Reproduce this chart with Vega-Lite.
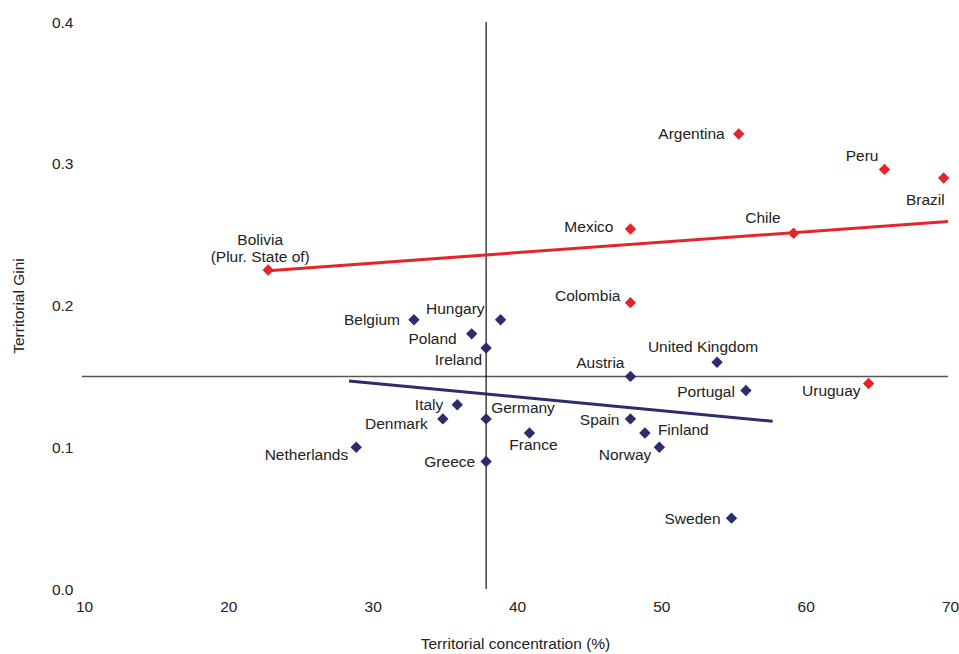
{
  "$schema": "https://vega.github.io/schema/vega-lite/v6.json",
  "autosize": {"type": "none"},
  "width": 866,
  "height": 567,
  "padding": {"left": 82, "top": 22, "right": 11, "bottom": 65},
  "background": "white",
  "config": {
    "view": {"stroke": null},
    "font": "Liberation Sans",
    "text": {"font": "Liberation Sans", "fontSize": 15.5, "color": "#222222"}
  },
  "datasets": {
    "points": [
      {"country": "Bolivia\n(Plur. State of)", "conc": 22.9, "gini": 0.225, "group": "Latin America"},
      {"country": "Mexico", "conc": 48, "gini": 0.254, "group": "Latin America"},
      {"country": "Colombia", "conc": 48, "gini": 0.202, "group": "Latin America"},
      {"country": "Argentina", "conc": 55.5, "gini": 0.321, "group": "Latin America"},
      {"country": "Peru", "conc": 65.6, "gini": 0.296, "group": "Latin America"},
      {"country": "Brazil", "conc": 69.7, "gini": 0.29, "group": "Latin America"},
      {"country": "Chile", "conc": 59.3, "gini": 0.251, "group": "Latin America"},
      {"country": "Uruguay", "conc": 64.5, "gini": 0.145, "group": "Latin America"},
      {"country": "Belgium", "conc": 33, "gini": 0.19, "group": "Europe"},
      {"country": "Hungary", "conc": 39, "gini": 0.19, "group": "Europe"},
      {"country": "Poland", "conc": 37, "gini": 0.18, "group": "Europe"},
      {"country": "Ireland", "conc": 38, "gini": 0.17, "group": "Europe"},
      {"country": "Austria", "conc": 48, "gini": 0.15, "group": "Europe"},
      {"country": "Italy", "conc": 36, "gini": 0.13, "group": "Europe"},
      {"country": "Denmark", "conc": 35, "gini": 0.12, "group": "Europe"},
      {"country": "Germany", "conc": 38, "gini": 0.12, "group": "Europe"},
      {"country": "France", "conc": 41, "gini": 0.11, "group": "Europe"},
      {"country": "Netherlands", "conc": 29, "gini": 0.1, "group": "Europe"},
      {"country": "Greece", "conc": 38, "gini": 0.09, "group": "Europe"},
      {"country": "Spain", "conc": 48, "gini": 0.12, "group": "Europe"},
      {"country": "Finland", "conc": 49, "gini": 0.11, "group": "Europe"},
      {"country": "Norway", "conc": 50, "gini": 0.1, "group": "Europe"},
      {"country": "United Kingdom", "conc": 54, "gini": 0.16, "group": "Europe"},
      {"country": "Portugal", "conc": 56, "gini": 0.14, "group": "Europe"},
      {"country": "Sweden", "conc": 55, "gini": 0.05, "group": "Europe"}
    ],
    "trends": [
      {"group": "Latin America", "conc": 22.9, "gini": 0.2246},
      {"group": "Latin America", "conc": 70, "gini": 0.2592},
      {"group": "Europe", "conc": 28.5, "gini": 0.1468},
      {"group": "Europe", "conc": 57.85, "gini": 0.1183}
    ],
    "vline": [{"conc": 38, "g0": 0, "g1": 0.4}],
    "hline": [{"gini": 0.15, "c0": 10, "c1": 70}]
  },
  "encoding": {
    "x": {
      "field": "conc", "type": "quantitative",
      "scale": {"domain": [10, 70], "nice": false, "zero": false},
      "axis": {
        "title": "Territorial concentration (%)", "values": [10, 20, 30, 40, 50, 60, 70],
        "domain": false, "ticks": false, "grid": false, "labelFlush": false,
        "labelFont": "Liberation Sans", "labelFontSize": 15.5, "labelColor": "#222222",
        "labelPadding": 10, "labelOffset": 2,
        "titleFont": "Liberation Sans", "titleFontSize": 15.5, "titleFontWeight": "normal", "titleColor": "#222222",
        "titlePadding": 22
      }
    },
    "y": {
      "field": "gini", "type": "quantitative",
      "scale": {"domain": [0, 0.4], "nice": false},
      "axis": {
        "title": "Territorial Gini", "values": [0, 0.1, 0.2, 0.3, 0.4], "format": ".1f",
        "domain": false, "ticks": false, "grid": false, "labelFlush": false,
        "labelFont": "Liberation Sans", "labelFontSize": 15.5, "labelColor": "#222222",
        "labelPadding": 9,
        "titleFont": "Liberation Sans", "titleFontSize": 15.5, "titleFontWeight": "normal", "titleColor": "#222222",
        "titlePadding": 25
      }
    }
  },
  "layer": [
    {
      "data": {"name": "hline"},
      "mark": {"type": "rule", "color": "#555555", "strokeWidth": 1.5},
      "encoding": {
        "x": {"field": "c0", "type": "quantitative"},
        "x2": {"field": "c1"},
        "y": {"field": "gini", "type": "quantitative"}
      }
    },
    {
      "data": {"name": "vline"},
      "mark": {"type": "rule", "color": "#111111", "strokeWidth": 1.2},
      "encoding": {
        "x": {"field": "conc", "type": "quantitative"},
        "y": {"field": "g0", "type": "quantitative"},
        "y2": {"field": "g1"}
      }
    },
    {
      "data": {"name": "trends"},
      "mark": {"type": "line", "strokeWidth": 3},
      "encoding": {
        "detail": {"field": "group"},
        "color": {"field": "group", "type": "nominal", "scale": {"domain": ["Latin America", "Europe"], "range": ["#E3262B", "#2B2D6C"]}, "legend": null}
      }
    },
    {
      "data": {"name": "points"},
      "mark": {"type": "point", "shape": "diamond", "filled": true, "size": 130, "opacity": 1},
      "encoding": {
        "color": {"field": "group", "type": "nominal", "scale": {"domain": ["Latin America", "Europe"], "range": ["#E3262B", "#2E2F6E"]}, "legend": null}
      }
    },
    {
      "data": {"name": "points"},
      "transform": [{"filter": {"field": "country", "oneOf": ["Argentina", "Belgium", "Italy"]}}],
      "mark": {"type": "text", "align": "right", "baseline": "middle", "dx": -14, "dy": 0},
      "encoding": {"text": {"field": "country"}}
    },
    {
      "data": {"name": "points"},
      "transform": [{"filter": {"field": "country", "oneOf": ["Greece", "Spain", "Portugal", "Sweden"]}}],
      "mark": {"type": "text", "align": "right", "baseline": "middle", "dx": -11, "dy": 1},
      "encoding": {"text": {"field": "country"}}
    },
    {
      "data": {"name": "points"},
      "transform": [{"filter": {"field": "country", "oneOf": ["Mexico"]}}],
      "mark": {"type": "text", "align": "right", "baseline": "middle", "dx": -17, "dy": -2},
      "encoding": {"text": {"field": "country"}}
    },
    {
      "data": {"name": "points"},
      "transform": [{"filter": {"field": "country", "oneOf": ["Poland", "Denmark"]}}],
      "mark": {"type": "text", "align": "right", "baseline": "middle", "dx": -15, "dy": 5},
      "encoding": {"text": {"field": "country"}}
    },
    {
      "data": {"name": "points"},
      "transform": [{"filter": {"field": "country", "oneOf": ["Netherlands", "Norway", "Uruguay"]}}],
      "mark": {"type": "text", "align": "right", "baseline": "middle", "dx": -8, "dy": 8},
      "encoding": {"text": {"field": "country"}}
    },
    {
      "data": {"name": "points"},
      "transform": [{"filter": {"field": "country", "oneOf": ["Colombia"]}}],
      "mark": {"type": "text", "align": "right", "baseline": "middle", "dx": -10, "dy": -7},
      "encoding": {"text": {"field": "country"}}
    },
    {
      "data": {"name": "points"},
      "transform": [{"filter": {"field": "country", "oneOf": ["Hungary"]}}],
      "mark": {"type": "text", "align": "right", "baseline": "middle", "dx": -16, "dy": -11},
      "encoding": {"text": {"field": "country"}}
    },
    {
      "data": {"name": "points"},
      "transform": [{"filter": {"field": "country", "oneOf": ["Chile"]}}],
      "mark": {"type": "text", "align": "right", "baseline": "middle", "dx": -13, "dy": -15},
      "encoding": {"text": {"field": "country"}}
    },
    {
      "data": {"name": "points"},
      "transform": [{"filter": {"field": "country", "oneOf": ["Austria", "Peru"]}}],
      "mark": {"type": "text", "align": "right", "baseline": "middle", "dx": -6, "dy": -13},
      "encoding": {"text": {"field": "country"}}
    },
    {
      "data": {"name": "points"},
      "transform": [{"filter": {"field": "country", "oneOf": ["Ireland"]}}],
      "mark": {"type": "text", "align": "right", "baseline": "middle", "dx": -4, "dy": 12},
      "encoding": {"text": {"field": "country"}}
    },
    {
      "data": {"name": "points"},
      "transform": [{"filter": {"field": "country", "oneOf": ["Germany"]}}],
      "mark": {"type": "text", "align": "left", "baseline": "middle", "dx": 5, "dy": -11},
      "encoding": {"text": {"field": "country"}}
    },
    {
      "data": {"name": "points"},
      "transform": [{"filter": {"field": "country", "oneOf": ["Finland"]}}],
      "mark": {"type": "text", "align": "left", "baseline": "middle", "dx": 13, "dy": -3},
      "encoding": {"text": {"field": "country"}}
    },
    {
      "data": {"name": "points"},
      "transform": [{"filter": {"field": "country", "oneOf": ["France"]}}],
      "mark": {"type": "text", "align": "center", "baseline": "middle", "dx": 4, "dy": 12},
      "encoding": {"text": {"field": "country"}}
    },
    {
      "data": {"name": "points"},
      "transform": [{"filter": {"field": "country", "oneOf": ["United Kingdom"]}}],
      "mark": {"type": "text", "align": "center", "baseline": "middle", "dx": -14, "dy": -15},
      "encoding": {"text": {"field": "country"}}
    },
    {
      "data": {"name": "points"},
      "transform": [{"filter": {"field": "country", "oneOf": ["Brazil"]}}],
      "mark": {"type": "text", "align": "right", "baseline": "middle", "dx": 1, "dy": 22},
      "encoding": {"text": {"field": "country"}}
    },
    {
      "data": {"name": "points"},
      "transform": [{"filter": {"field": "group", "equal": "Latin America"}}, {"filter": {"field": "conc", "lt": 30}}],
      "mark": {"type": "text", "align": "center", "baseline": "middle", "dx": -8, "dy": -30, "lineBreak": "\n", "lineHeight": 16.5},
      "encoding": {"text": {"field": "country"}}
    }
  ]
}
